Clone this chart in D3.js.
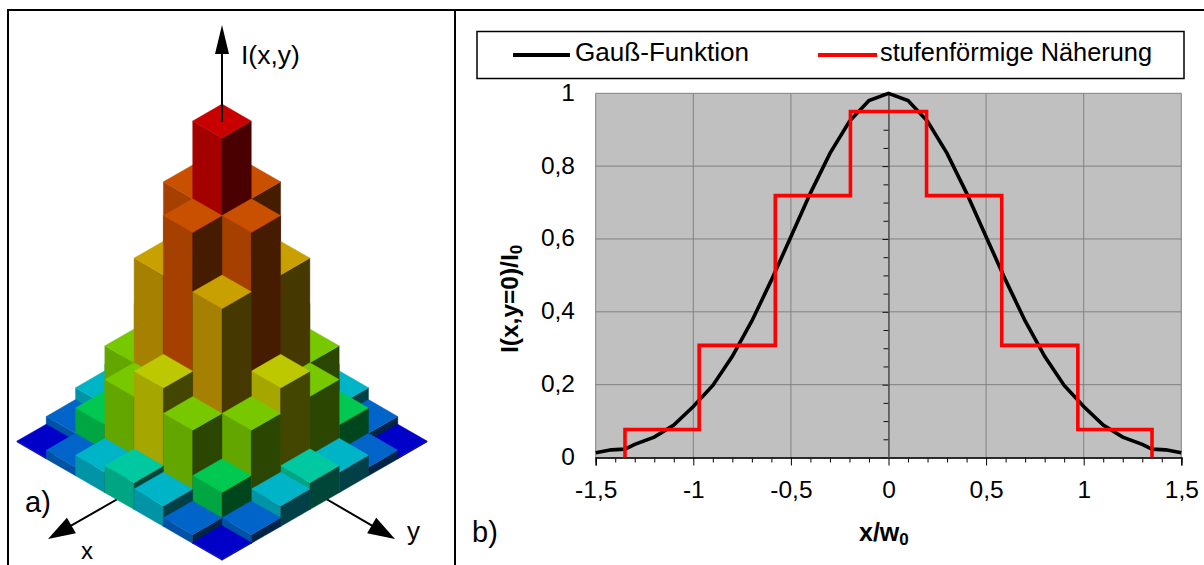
<!DOCTYPE html>
<html><head><meta charset="utf-8">
<script src="https://cdn.jsdelivr.net/npm/d3@7/dist/d3.min.js"></script>
<style>html,body{margin:0;padding:0;background:#fff}svg{display:block}text{font-family:"Liberation Sans",Arial,sans-serif;fill:#000}</style>
</head><body><svg id="c" width="1204" height="565"></svg>
<script>
// ---- panel a) intensity read from the 7x7 staircase
const gridIdx=[-3,-2,-1,0,1,2,3];
const intensity=[
 [0.003,0.027,0.064,0.084,0.064,0.027,0.003],
 [0.027,0.106,0.247,0.326,0.247,0.106,0.027],
 [0.064,0.247,0.573,0.758,0.573,0.247,0.064],
 [0.084,0.326,0.758,1.000,0.758,0.326,0.084],
 [0.064,0.247,0.573,0.758,0.573,0.247,0.064],
 [0.027,0.106,0.247,0.326,0.247,0.106,0.027],
 [0.003,0.027,0.064,0.084,0.064,0.027,0.003]];
const levels=[0.003,0.027,0.064,0.084,0.106,0.247,0.326,0.573,0.758,1.000];
const topColors =["#0000c8","#0064c8","#00b4c8","#00c8a0","#00c850","#78c800","#bec800","#c8a000","#c85000","#c80000"];
const leftColors=["#0000a6","#0052a6","#0094a6","#00a684","#00a642","#64a600","#a6a600","#a68000","#a54000","#a50000"];
const rightColors=["#000046","#002346","#004046","#004638","#00461c","#2a4600","#434600","#453800","#461c00","#4a0000"];
// ---- panel b) series
const gaussX=[-1.5,-1.42,-1.35,-1.3,-1.2,-1.1,-1,-0.9,-0.8,-0.7,-0.6,-0.5,-0.4,-0.3,-0.2,-0.1,0,0.1,0.2,0.3,0.4,0.5,0.6,0.7,0.8,0.9,1,1.1,1.2,1.3,1.35,1.42,1.5];
const gaussY=[0.013,0.021,0.023,0.036,0.056,0.089,0.140,0.198,0.278,0.375,0.487,0.606,0.726,0.835,0.923,0.980,1,0.980,0.923,0.835,0.726,0.606,0.487,0.375,0.278,0.198,0.140,0.089,0.056,0.036,0.023,0.021,0.013];
const stepX=[-1.35,-1.35,-0.97,-0.97,-0.58,-0.58,-0.195,-0.195,0.195,0.195,0.58,0.58,0.97,0.97,1.35,1.35];
const stepY=[0,0.077,0.077,0.308,0.308,0.719,0.719,0.95,0.95,0.719,0.719,0.308,0.308,0.077,0.077,0];
const xTicks=[-1.5,-1,-0.5,0,0.5,1,1.5];
const yTicks=[0,0.2,0.4,0.6,0.8,1];
const xMinor=[-1.4,-1.3,-1.2,-1.1,-0.9,-0.8,-0.7,-0.6,-0.4,-0.3,-0.2,-0.1,0.1,0.2,0.3,0.4,0.6,0.7,0.8,0.9,1.1,1.2,1.3,1.4];
const yMinor=[0.05,0.1,0.15,0.25,0.3,0.35,0.45,0.5,0.55,0.65,0.7,0.75,0.85,0.9,0.95];
const legendNames=["Gauß-Funktion","stufenförmige Näherung"];

const svg=d3.select("#c");
const fmt=d3.formatLocale({decimal:",",thousands:".",grouping:[3],currency:["","€"],minus:"-"}).format("~g");

// frame
svg.append("path").attr("d","M8,565V10H1204M455,10V565").attr("fill","none").attr("stroke","#000").attr("stroke-width",2);

// ---- panel a
const A=svg.append("g");
const sx=d3.scaleLinear([-6,6],[222-6*29.3,222+6*29.3]);
const sy=d3.scaleLinear([-6,6],[442-6*16.9,442+6*16.9]);
const sh=d3.scaleLinear([0,1],[0,321]);
const hw=sx(1)-sx(0), hh=sy(1)-sy(0);
const cTop=d3.scaleOrdinal(levels,topColors), cLeft=d3.scaleOrdinal(levels,leftColors), cRight=d3.scaleOrdinal(levels,rightColors);

function arrow(g,x1,y1,x2,y2,len,wid){
  const a=Math.atan2(y2-y1,x2-x1),c=Math.cos(a),s=Math.sin(a);
  g.append("line").attr("x1",x1).attr("y1",y1).attr("x2",x2-c*len*0.8).attr("y2",y2-s*len*0.8).attr("stroke","#000").attr("stroke-width",2);
  const bx=x2-c*len,by=y2-s*len;
  g.append("path").attr("d",`M${x2},${y2}L${bx-s*wid/2},${by+c*wid/2}L${bx+s*wid/2},${by-c*wid/2}Z`).attr("fill","#000");
}
arrow(A,128,493,48,539,27,18);
arrow(A,316,493,395,539,27,18);

const cells=[];
gridIdx.forEach((i,r)=>gridIdx.forEach((j,c)=>cells.push({i,j,v:intensity[r][c]})));
cells.sort((a,b)=>(a.i+a.j)-(b.i+b.j));
cells.forEach(d=>{
  const x=sx(d.j-d.i), y=sy(d.i+d.j), t=y-sh(d.v);
  const face=(p,col)=>A.append("path").attr("d",p).attr("fill",col).attr("stroke",col).attr("stroke-width",0.4);
  face(`M${x-hw},${t}L${x},${t+hh}V${y+hh}L${x-hw},${y}Z`,cLeft(d.v));
  face(`M${x+hw},${t}L${x},${t+hh}V${y+hh}L${x+hw},${y}Z`,cRight(d.v));
  face(`M${x},${t-hh}L${x+hw},${t}L${x},${t+hh}L${x-hw},${t}Z`,cTop(d.v));
});
arrow(A,222,122,222,25,29,14);
A.append("text").attr("x",241).attr("y",64).attr("font-size",26.5).text("I(x,y)");
A.append("text").attr("x",25).attr("y",512).attr("font-size",29).text("a)");
A.append("text").attr("x",81).attr("y",559).attr("font-size",24).text("x");
A.append("text").attr("x",407).attr("y",540).attr("font-size",26).text("y");

// ---- panel b
const B=svg.append("g");
const X=d3.scaleLinear([-1.5,1.5],[595.7,1181.3]);
const Y=d3.scaleLinear([0,1],[457.5,93.3]);
// legend
B.append("rect").attr("x",477).attr("y",31.5).attr("width",707).attr("height",47).attr("fill","#fff").attr("stroke","#000").attr("stroke-width",1.5);
B.append("line").attr("x1",513).attr("x2",570).attr("y1",55).attr("y2",55).attr("stroke","#000").attr("stroke-width",4);
B.append("line").attr("x1",818).attr("x2",877).attr("y1",55).attr("y2",55).attr("stroke","#f00").attr("stroke-width",4);
B.append("text").attr("x",575).attr("y",61).attr("font-size",25).attr("textLength",174).attr("lengthAdjust","spacingAndGlyphs").text(legendNames[0]);
B.append("text").attr("x",880).attr("y",61).attr("font-size",25).attr("textLength",272).attr("lengthAdjust","spacingAndGlyphs").text(legendNames[1]);
// plot area
B.append("rect").attr("x",X(-1.5)).attr("y",Y(1)).attr("width",X(1.5)-X(-1.5)).attr("height",Y(0)-Y(1)).attr("fill","#c0c0c0");
const gl=B.append("g").attr("stroke","#808080").attr("stroke-width",1);
xTicks.forEach(t=>gl.append("line").attr("x1",X(t)).attr("x2",X(t)).attr("y1",Y(0)).attr("y2",Y(1)));
yTicks.forEach(t=>gl.append("line").attr("x1",X(-1.5)).attr("x2",X(1.5)).attr("y1",Y(t)).attr("y2",Y(t)));
// x axis at y=0
const xa=B.append("g").attr("transform",`translate(0,${Y(0)})`);
xa.call(d3.axisBottom(X).tickValues(xMinor).tickSize(5).tickFormat(""));
xa.append("g").call(d3.axisBottom(X).tickValues(xTicks).tickSize(8).tickPadding(15).tickFormat(fmt));
xa.selectAll("path.domain").attr("stroke","#222").attr("stroke-width",1.5);
xa.selectAll("text").attr("font-size",24.5).attr("fill","#000").attr("font-family",'"Liberation Sans",Arial,sans-serif');
// y axis at x=0
const ya=B.append("g").attr("transform",`translate(${X(0)},0)`);
ya.call(d3.axisLeft(Y).tickValues(yMinor).tickSize(5).tickFormat(""));
ya.append("g").call(d3.axisLeft(Y).tickValues(yTicks).tickSizeInner(6).tickSizeOuter(0).tickFormat(""));
ya.selectAll("line").attr("stroke","#111");
ya.selectAll("path.domain").attr("stroke","#555");
yTicks.forEach(t=>B.append("text").attr("x",575).attr("y",Y(t)+7.5).attr("text-anchor","end").attr("font-size",24.5).text(fmt(t)));
// series
const line=d3.line().x(d=>X(d[0])).y(d=>Y(d[1]));
B.append("path").attr("d",line(d3.zip(gaussX,gaussY))).attr("fill","none").attr("stroke","#000").attr("stroke-width",3.6);
B.append("path").attr("d",line(d3.zip(stepX,stepY))).attr("fill","none").attr("stroke","#f00").attr("stroke-width",3.6).attr("stroke-linejoin","miter");
// titles
const ty=B.append("text").attr("transform","translate(518,353) rotate(-90)").attr("font-size",24.5).attr("font-weight","bold").text("I(x,y=0)/I");
ty.append("tspan").attr("font-size",17).attr("dy",4).text("0");
const tx=B.append("text").attr("x",859).attr("y",541).attr("font-size",25).attr("font-weight","bold").text("x/w");
tx.append("tspan").attr("font-size",17).attr("dy",4).text("0");
B.append("text").attr("x",472).attr("y",542).attr("font-size",29).text("b)");
</script></body></html>
